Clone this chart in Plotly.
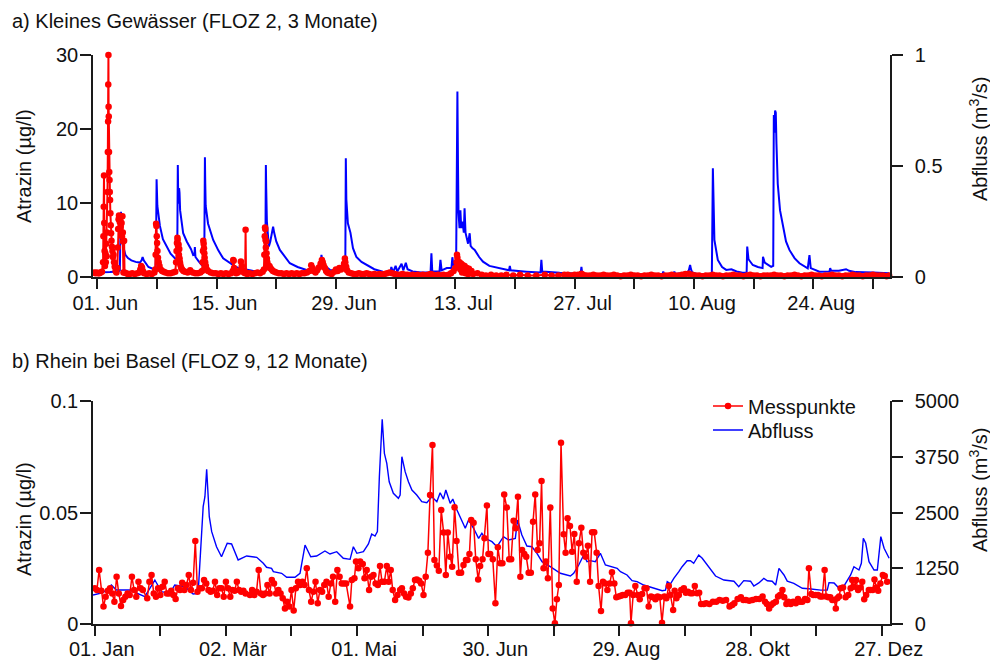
import pandas as pd
import plotly.graph_objects as go

FONT = "Liberation Sans, Arial, Helvetica, sans-serif"
RED = "#ff0000"
BLUE = "#0000ff"
AXC = "#1a1a1a"
FS = 20

# ---------------- Panel a: Kleines Gewässer (days since 01 Jun) ----------------
floz2_start = "2005-06-01"

floz2_q_days = [
    -0.45, 0.5, 1.5, 2.5, 2.65, 2.72, 2.78, 2.85, 2.95, 3.1, 3.3, 3.6, 4.0, 4.5, 5.0, 5.2, 5.32, 5.45, 5.7, 6.0, 6.5, 6.85,
    6.9, 6.96, 7.05, 7.2, 7.35, 7.7, 8.14, 8.6, 9.1, 9.35,
    9.4, 9.45, 9.5, 9.55, 9.6, 9.65, 9.72, 9.9, 10.08, 10.5, 11.0, 11.25, 11.4, 11.45, 11.52, 11.9, 12.24, 12.55,
    12.6, 12.63, 12.67, 12.72, 12.83, 13.0, 13.6, 14.2, 14.77, 15.5, 16.2, 16.73, 17.5, 18.69, 19.5, 19.72,
    19.75, 19.78, 19.82, 19.9, 20.0, 20.13, 20.3, 20.5, 20.63, 20.75, 21.0, 21.42, 22.0, 22.59, 23.5, 24.55, 25.4, 25.9, 26.2, 26.3, 26.4, 26.7, 27.29, 28.0, 28.6, 29.1,
    29.16, 29.22, 29.4, 29.7, 30.0, 30.4, 31.0, 31.6, 32.5, 33.5, 34.4, 34.5, 34.7, 35.0, 35.2, 35.7, 35.9, 36.2, 36.4, 37.0, 38.0, 39.1, 39.2, 39.3, 40.15, 40.26, 40.4, 41.0, 41.55, 41.66, 41.8, 42.1,
    42.25, 42.32, 42.38, 42.5, 42.6, 42.7, 42.85, 43.0, 43.09, 43.2, 43.3, 43.5, 43.69, 43.8, 44.0, 44.28, 44.8, 45.25, 46.0, 47.21, 48.3, 48.4, 48.5, 50.34, 52.0, 52.1, 52.2, 54.25, 56.7, 56.8, 56.9, 58.0, 60.0, 62.0, 66.3, 66.4, 66.5, 67.6, 67.7, 67.8, 69.2, 69.4, 69.55, 69.65, 69.8, 70.5, 72.1,
    72.22, 72.3, 72.4, 72.8, 73.3, 73.79, 74.4, 75.0, 75.7, 76.18, 76.25, 76.4, 76.9, 77.5, 77.9, 78.05, 78.1, 78.3, 79.06, 79.3,
    79.37, 79.45, 79.52, 79.6, 79.68, 79.83, 80.1, 80.42, 80.8, 81.2, 81.8, 82.38, 83.0, 83.35, 83.55, 83.7, 84.72, 85.9, 85.98, 86.1, 87.0, 87.85, 88.2, 89.0, 91.0, 92.9,
]
floz2_q = [
    0.02, 0.02, 0.022, 0.025, 0.03, 0.2, 0.294, 0.26, 0.17, 0.13, 0.10, 0.085, 0.075, 0.068, 0.065, 0.075, 0.09, 0.075, 0.06, 0.045, 0.037, 0.035,
    0.15, 0.44, 0.32, 0.26, 0.23, 0.17, 0.137, 0.105, 0.085, 0.08,
    0.2, 0.504, 0.35, 0.33, 0.40, 0.38, 0.30, 0.24, 0.197, 0.16, 0.125, 0.099, 0.1, 0.135, 0.09, 0.07, 0.054, 0.05,
    0.3, 0.539, 0.42, 0.32, 0.294, 0.24, 0.167, 0.12, 0.084, 0.065, 0.047, 0.039, 0.032, 0.024, 0.022, 0.03,
    0.3, 0.504, 0.40, 0.25, 0.18, 0.137, 0.16, 0.20, 0.227, 0.20, 0.16, 0.122, 0.09, 0.062, 0.045, 0.032, 0.03, 0.035, 0.045, 0.1, 0.07, 0.05, 0.032, 0.03, 0.028, 0.05,
    0.535, 0.35, 0.242, 0.2, 0.13, 0.09, 0.068, 0.054, 0.035, 0.024, 0.022, 0.045, 0.02, 0.05, 0.025, 0.06, 0.03, 0.064, 0.035, 0.025, 0.02, 0.02, 0.107, 0.025, 0.025, 0.077, 0.03, 0.04, 0.04, 0.089, 0.05, 0.06,
    0.835, 0.5, 0.29, 0.22, 0.30, 0.22, 0.25, 0.2, 0.31, 0.2, 0.18, 0.15, 0.197, 0.14, 0.13, 0.122, 0.09, 0.069, 0.05, 0.039, 0.03, 0.05, 0.03, 0.024, 0.02, 0.077, 0.025, 0.019, 0.015, 0.046, 0.015, 0.013, 0.012, 0.012, 0.012, 0.025, 0.012, 0.013, 0.025, 0.013, 0.02, 0.03, 0.054, 0.035, 0.02, 0.012, 0.012,
    0.49, 0.3, 0.167, 0.077, 0.045, 0.032, 0.035, 0.025, 0.019, 0.02, 0.137, 0.08, 0.054, 0.045, 0.039, 0.04, 0.091, 0.065, 0.046, 0.05,
    0.73, 0.65, 0.75, 0.74, 0.6, 0.42, 0.3, 0.227, 0.16, 0.122, 0.085, 0.062, 0.045, 0.039, 0.099, 0.04, 0.024, 0.025, 0.04, 0.028, 0.028, 0.035, 0.028, 0.022, 0.02, 0.017,
]

floz2_atz_days = [
    -0.35, -0.2, -0.05, 0.1, 0.25, 0.4, 0.55,
    0.68, 0.72, 0.76, 0.79, 0.82, 0.86, 0.9, 0.95, 1.0, 1.05, 1.1, 1.15, 1.2, 1.24, 1.27, 1.29, 1.31, 1.33, 1.35, 1.38,
    1.41, 1.44, 1.47, 1.5, 1.54, 1.58, 1.62, 1.67, 1.72, 1.78, 1.84, 1.9, 1.97, 2.05, 2.15, 2.25,
    2.35, 2.4, 2.45, 2.5, 2.55, 2.6, 2.65, 2.7, 2.75, 2.8, 2.85, 2.9, 2.95, 3.0, 3.03, 3.07, 3.15, 3.2, 3.4, 3.6,
    3.8, 4.1, 4.4, 4.7, 4.95, 5.05, 5.15, 5.25, 5.35, 5.5, 5.8, 6.1, 6.4, 6.7,
    6.8, 6.85, 6.9, 6.94, 6.98, 7.02, 7.06, 7.12, 7.2, 7.3, 7.45, 7.6, 7.8, 8.0, 8.3, 8.6, 8.9,
    9.15, 9.25, 9.3, 9.35, 9.4, 9.43, 9.47, 9.5, 9.54, 9.58, 9.62, 9.66, 9.7, 9.76, 9.85, 9.95, 10.1, 10.3, 10.6, 10.9, 11.2, 11.5, 11.8, 12.1,
    12.3, 12.36, 12.4, 12.44, 12.48, 12.52, 12.56, 12.6, 12.66, 12.74, 12.85, 13.0, 13.3, 13.6, 13.9, 14.2, 14.5, 14.8, 15.1, 15.4, 15.7,
    15.9, 15.95, 16.0, 16.05, 16.15, 16.3, 16.5, 16.75, 16.85, 16.95, 17.05, 17.2, 17.35, 17.4, 17.45, 17.6, 17.9, 18.2, 18.5, 18.8, 19.1, 19.4,
    19.55, 19.6, 19.65, 19.68, 19.71, 19.74, 19.78, 19.82, 19.86, 19.9, 19.95, 20.0, 20.1, 20.2, 20.3, 20.45, 20.6, 20.8, 21.0, 21.3,
    21.6, 21.9, 22.2, 22.5, 22.8, 23.1, 23.4, 23.7, 24.0, 24.3, 24.6,
    24.9, 25.1, 25.25, 25.4, 25.6, 25.8, 26.0, 26.2, 26.35, 26.45, 26.55, 26.7, 26.85, 27.0, 27.2, 27.5, 27.8, 28.0, 28.2, 28.4,
    28.6, 28.8, 28.95, 29.05, 29.1, 29.2, 29.3, 29.5, 29.8, 30.1,
    30.4, 30.7, 31.0, 31.3, 31.6, 31.9, 32.2, 32.5, 32.8, 33.1, 33.4, 33.7, 34.0, 34.3, 34.6, 34.9, 35.2, 35.5, 35.8, 36.1,
    36.4, 36.7, 37.0, 37.3, 37.6, 37.9, 38.2, 38.5, 38.8, 39.1, 39.4, 39.7, 40.0, 40.3, 40.6, 40.9, 41.2, 41.5, 41.8, 42.0,
    42.15, 42.2, 42.25, 42.3, 42.4, 42.5, 42.6, 42.7, 42.8, 42.9, 43.0, 43.1, 43.2, 43.35, 43.5, 43.6, 43.75, 43.9, 44.1,
    44.6, 45.1, 45.6, 46.2, 46.8, 47.4, 48.0, 48.8, 49.6, 50.5, 51.5, 52.5, 53.3, 54.1, 54.8,
    55.2, 55.6, 56.0, 56.4, 56.8, 57.0, 57.4, 57.8, 58.2, 58.6, 59.0, 59.4, 59.8, 60.2, 60.6, 61.0, 61.4, 61.8, 62.2, 62.6,
    63.0, 63.4, 63.8, 64.2, 64.6, 65.0, 65.4, 65.8, 66.2, 66.6, 67.0, 67.4, 67.8, 68.2, 68.6, 69.0, 69.4, 69.8, 70.2, 70.6,
    71.0, 71.4, 71.8, 72.2, 72.6, 73.0, 73.4, 73.8, 74.2, 74.6, 75.0, 75.4, 75.8, 76.2, 76.6, 77.0, 77.4, 77.8, 78.2, 78.6,
    79.0, 79.4, 79.8, 80.2, 80.6, 81.0, 81.4, 81.8, 82.2, 82.6, 83.0, 83.4, 83.8, 84.2, 84.6, 85.0, 85.4, 85.8, 86.2, 86.6,
    87.0, 87.4, 87.8, 88.2, 88.6, 89.0, 89.4, 89.8, 90.2, 90.6, 91.0, 91.4, 91.8, 92.2, 92.6, 92.9,
]
floz2_atz = [
    0.6, 0.5, 0.6, 0.5, 0.5, 0.6, 0.7,
    2.0, 5.5, 9.5, 13.7, 7.3, 3.5, 1.5, 3.2, 2.0, 4.5, 2.8, 6.0, 11.5, 16.9, 21.0, 26.0, 30.0, 23.0, 21.7, 16.9,
    14.2, 13.1, 11.5, 10.4, 8.6, 7.0, 5.9, 4.9, 4.1, 3.5, 2.7, 3.0, 2.0, 1.4, 0.8, 0.6,
    1.2, 4.0, 6.5, 7.8, 8.3, 8.1, 7.4, 8.2, 6.8, 5.8, 7.3, 5.5, 8.2, 6.0, 4.8, 0.6, 4.9, 0.6, 0.5, 0.4,
    0.4, 0.5, 0.4, 0.5, 0.6, 1.0, 1.5, 1.3, 0.8, 0.5, 0.4, 0.5, 0.4, 0.6,
    1.0, 3.0, 7.2, 6.9, 5.5, 4.6, 3.5, 2.6, 2.0, 1.5, 1.0, 0.8, 0.7, 0.6, 0.5, 0.5, 0.6,
    0.7, 2.0, 3.5, 4.6, 5.3, 5.0, 4.2, 3.6, 4.4, 3.0, 3.8, 2.5, 2.0, 1.6, 1.2, 1.0, 0.8, 0.7, 0.6, 0.9, 0.6, 0.5, 0.5, 0.6,
    0.8, 2.0, 3.5, 4.9, 4.5, 3.9, 3.2, 2.6, 2.0, 1.5, 1.0, 0.8, 0.6, 0.5, 0.5, 0.4, 0.5, 0.4, 0.5, 0.4, 0.5,
    0.8, 2.3, 2.2, 1.2, 0.8, 0.5, 0.6, 0.9, 2.1, 1.5, 0.8, 0.6, 0.5, 6.4, 0.6, 0.4, 0.5, 0.4, 0.5, 0.6, 0.5, 0.7,
    1.0, 3.0, 5.5, 6.7, 6.5, 5.0, 4.0, 4.8, 3.2, 2.5, 2.0, 1.5, 1.3, 1.5, 1.2, 1.0, 0.8, 0.7, 0.6, 0.5,
    0.5, 0.4, 0.5, 0.4, 0.5, 0.4, 0.5, 0.4, 0.5, 0.5, 0.6,
    0.8, 1.6, 1.2, 0.8, 0.6, 0.9, 1.3, 1.8, 2.3, 2.0, 1.6, 1.2, 0.8, 0.6, 0.5, 0.4, 0.7, 1.0, 0.8, 1.2,
    1.0, 1.3, 1.8, 2.5, 2.0, 1.4, 0.9, 0.6, 0.5, 0.4,
    0.4, 0.5, 0.4, 0.4, 0.5, 0.4, 0.3, 0.4, 0.3, 0.4, 0.3, 0.4, 0.5, 0.6, 0.5, 0.4, 0.3, 0.3, 0.4, 0.3,
    0.3, 0.2, 0.3, 0.2, 0.3, 0.2, 0.3, 0.2, 0.3, 0.4, 0.3, 0.2, 0.3, 0.2, 0.3, 0.2, 0.3, 0.5, 0.8, 1.2,
    2.0, 3.0, 2.6, 2.1, 1.5, 2.0, 1.0, 1.8, 0.6, 1.6, 0.7, 1.5, 0.5, 1.2, 0.4, 1.1, 0.5, 0.8, 0.4,
    0.5, 0.3, 0.2, 0.3, 0.2, 0.2, 0.3, 0.2, 0.3, 0.2, 0.2, 0.3, 0.2, 0.2, 0.3,
    0.3, 0.2, 0.3, 0.3, 0.45, 0.3, 0.2, 0.2, 0.3, 0.2, 0.2, 0.3, 0.2, 0.2, 0.3, 0.2, 0.1, 0.2, 0.2, 0.3,
    0.2, 0.2, 0.1, 0.2, 0.2, 0.3, 0.2, 0.2, 0.1, 0.2, 0.2, 0.3, 0.2, 0.2, 0.3, 0.4, 0.45, 0.3, 0.2, 0.2,
    0.1, 0.2, 0.2, 0.3, 0.2, 0.2, 0.1, 0.2, 0.2, 0.3, 0.2, 0.2, 0.1, 0.2, 0.3, 0.2, 0.2, 0.1, 0.2, 0.2,
    0.2, 0.3, 0.2, 0.2, 0.1, 0.2, 0.2, 0.3, 0.2, 0.1, 0.2, 0.2, 0.3, 0.2, 0.2, 0.1, 0.2, 0.2, 0.3, 0.2,
    0.2, 0.1, 0.2, 0.2, 0.3, 0.2, 0.2, 0.1, 0.2, 0.2, 0.3, 0.2, 0.2, 0.2, 0.1, 0.2,
]

floz2_tick_days = [0, 14, 28, 42, 56, 70, 84]
floz2_tick_text = ["01. Jun", "15. Jun", "29. Jun", "13. Jul", "27. Jul", "10. Aug", "24. Aug"]
floz2_minor_days = [7, 21, 35, 49, 63, 77, 91]
floz2_range_days = [-0.5, 93.0]
floz2_atz_ticks = [0, 10, 20, 30]
floz2_q_ticks = [0, 0.5, 1]

# ---------------- Panel b: Rhein bei Basel (days since 01 Jan) ----------------
rhein_start = "2005-01-01"

rhein_q_days = [
    -0.8, 3.8, 7.6, 9.9, 16.0, 22.9, 27.5, 30.5, 34.4, 36.6, 41.2, 45.0, 47.3, 49.6, 50.4, 51.2, 52.4, 53.5, 55.7, 58.0,
    60.6, 62.6, 65.6, 69.5, 74.1, 77.1, 78.6, 80.9, 81.7, 85.5, 87.8, 91.6, 93.9, 96.2, 98.8, 101.5, 105.3, 107.6, 110.7, 113.7,
    116.8, 118.3, 119.9, 122.9, 125.2, 126.7, 128.2, 129.3, 130.2, 131.5, 132.5, 133.6, 134.7, 136.6, 138.9, 139.7, 140.5, 142.0, 143.5, 145.1,
    147.3, 149.6, 151.9, 154.2, 156.5, 158.0, 159.5, 160.6, 162.6, 163.8, 165.7, 169.5, 171.0, 173.3, 175.6, 177.1, 178.6, 181.7, 184.0, 187.0,
    189.3, 192.4, 193.4, 195.4, 197.7, 200.0, 202.3, 204.6, 208.4, 213.0, 217.6, 219.1, 221.4, 223.7, 225.2, 226.7, 229.0, 231.3, 233.6, 236.7,
    239.0, 240.5, 242.0, 243.5, 245.8, 248.1, 251.1, 254.2, 257.3, 259.6, 261.1, 261.9, 263.4, 264.9, 267.2, 268.7, 271.0, 272.5, 274.0, 276.3,
    277.9, 280.9, 284.0, 287.8, 292.4, 294.6, 296.9, 300.0, 301.5, 303.8, 306.1, 307.7, 309.9, 311.5, 313.0, 315.3, 316.8, 319.8, 323.7, 326.7,
    329.0, 332.1, 335.1, 335.9, 338.2, 340.5, 342.7, 345.8, 347.3, 349.6, 350.7, 351.6, 352.7, 354.2, 356.5, 358.0, 359.6, 361.1, 363.4,
]
rhein_q = [
    650, 702, 874, 762, 762, 612, 986, 724, 688, 874, 836, 672, 688, 2630, 2854, 3468, 2406, 2070, 1733, 1509,
    1809, 1794, 1435, 1525, 1495, 1361, 1271, 1248, 1173, 1137, 1047, 1047, 1137, 1771, 1509, 1525, 1637, 1570, 1621, 1473,
    1450, 1733, 1585, 1621, 1794, 2018, 1973, 2070, 3303, 4590, 3827, 3603, 3190, 2930, 2818, 2892, 3751, 3415, 3190, 3004,
    2892, 2742, 2720, 2854, 2742, 2944, 2800, 3004, 2706, 2800, 2556, 2146, 2332, 2146, 1921, 2034, 1921, 1846, 1733, 1958,
    1883, 1921, 2332, 1996, 1749, 1733, 1585, 1397, 1285, 1137, 1076, 1137, 1323, 1547, 1397, 1420, 1397, 1585, 1323, 1271,
    1248, 1173, 1137, 1099, 972, 949, 874, 822, 777, 747, 760, 949, 900, 1024, 1173, 1285, 1419, 1419, 1361, 1547,
    1473, 1285, 1076, 986, 960, 836, 972, 960, 852, 920, 1024, 970, 960, 874, 1248, 1099, 960, 912, 800, 790,
    777, 760, 760, 927, 920, 800, 850, 1099, 1285, 1211, 1361, 1921, 1809, 1397, 1211, 1211, 1958, 1697, 1473,
]

rhein_atz_days = list(range(0, 23)) + list(range(24, 70)) + list(range(71, 116)) + [
    116.8, 117.6, 118.8, 119.5, 120.6, 121.4, 122.6, 123.4, 124.4, 125.5, 126.4, 127.5, 128.5, 129.5, 130.5, 131.4, 132.5, 133.6, 134.5, 135.4,
    136.3, 137.4, 138.5, 139.7, 140.5, 141.5, 142.4, 143.5, 144.6, 145.5, 146.5, 147.3, 148.4, 149.3, 150.4, 151.4, 152.4, 153.4, 154.5, 155.4,
    156.5, 157.4, 158.5, 159.6, 160.6, 161.5, 162.6, 163.5, 164.6, 165.5, 166.6, 167.6, 168.7, 169.8, 170.5, 171.4, 172.2, 173.3, 174.3, 175.4,
    176.3, 177.4, 178.3, 179.4, 180.1, 180.9, 182.1, 183.3, 184.4, 185.5, 186.5, 187.3, 188.5, 189.6, 190.5, 191.6, 192.5, 193.6, 194.7, 195.5,
    196.5, 197.4, 198.5, 199.5, 200.5, 201.5, 202.6, 203.5, 204.4, 205.3, 206.4, 207.3, 208.4, 209.5, 210.5, 211.4, 212.3, 213.3, 214.5, 215.4,
    216.3, 217.4, 218.4, 219.4, 220.5, 221.5, 222.6, 223.5, 224.6, 225.6, 226.6, 227.5, 228.5, 229.6, 230.5, 231.6, 232.5, 233.6, 234.5, 235.6,
    236.6, 237.7, 238.6, 239.7, 240.7, 241.6, 242.7, 243.8, 244.7,
    245.3, 246.3, 247.3, 248.4, 249.3, 250.4, 251.5, 252.4, 253.4, 254.5, 255.4, 256.5, 257.5, 258.5, 259.5, 260.6, 261.5, 262.6, 263.4, 264.6,
    265.3, 266.1, 267.2, 268.3, 269.5, 270.4, 271.4, 272.5, 273.4, 274.5, 275.6, 276.5, 277.4, 278.6, 279.7, 281.2, 282.8, 284.3, 285.8, 287.3,
    288.8, 290.4, 291.6, 292.6, 294.1, 295.6, 296.7, 297.9, 299.4, 300.9, 302.5, 304.0, 305.5, 306.6, 307.5, 308.5, 309.5, 310.4, 311.6, 312.6,
    313.5, 314.6, 315.4, 316.4, 317.3, 318.4, 319.5, 320.7, 321.7, 322.6, 323.7, 324.9, 326.0, 326.7, 327.8, 328.7, 329.8, 330.9, 331.9, 332.8,
    333.9, 334.6, 335.6, 336.5, 337.4, 338.3, 339.0, 339.7, 340.5, 341.2, 342.3, 343.5, 344.7, 345.8, 346.5, 347.3, 348.3, 349.2, 350.3, 351.1,
    352.0, 352.9, 354.1, 354.9, 355.9, 356.7, 357.6, 358.4, 359.4, 360.5, 361.4, 362.5,
]
rhein_atz = [
    0.0160, 0.0152, 0.0242, 0.0149, 0.0078, 0.0122, 0.0149, 0.0160, 0.0137, 0.0100,
    0.0212, 0.0137, 0.0081, 0.0108, 0.0122, 0.0137, 0.0130, 0.0212, 0.0152, 0.0122,
    0.0190, 0.0160, 0.0152, 0.0115, 0.0190, 0.0220, 0.0137, 0.0122, 0.0160, 0.0130,
    0.0167, 0.0190, 0.0137, 0.0137, 0.0149, 0.0130, 0.0112, 0.0160, 0.0152, 0.0185,
    0.0152, 0.0175, 0.0220, 0.0152, 0.0185, 0.0372, 0.0145, 0.0160, 0.0160, 0.0197,
    0.0182, 0.0152, 0.0145, 0.0149, 0.0190, 0.0130, 0.0160, 0.0160, 0.0122, 0.0190,
    0.0160, 0.0122, 0.0152, 0.0149, 0.0190, 0.0152, 0.0145, 0.0149, 0.0137, 0.0130,
    0.0152, 0.0130, 0.0145, 0.0242, 0.0137, 0.0130, 0.0137, 0.0175, 0.0137, 0.0197,
    0.0182, 0.0137, 0.0152, 0.0137, 0.0115, 0.0070, 0.0100, 0.0078, 0.0152, 0.0060,
    0.0160, 0.0190, 0.0175, 0.0190, 0.0175, 0.0250, 0.0152, 0.0100, 0.0145, 0.0190,
    0.0093, 0.0152, 0.0145, 0.0175, 0.0190, 0.0122, 0.0182, 0.0212, 0.0100, 0.0242,
    0.0212, 0.0182, 0.0182, 0.0182,
    0.0078, 0.0197, 0.0205, 0.0280, 0.0250, 0.0280, 0.0269, 0.0205, 0.0242, 0.0152, 0.0212, 0.0220, 0.0182, 0.0175, 0.0260, 0.0190, 0.0190, 0.0260, 0.0190, 0.0242,
    0.0152, 0.0108, 0.0130, 0.0152, 0.0160, 0.0137, 0.0122, 0.0119, 0.0137, 0.0160, 0.0197, 0.0200, 0.0194, 0.0182, 0.0130, 0.0212, 0.0320, 0.0578, 0.0803, 0.0287,
    0.0262, 0.0239, 0.0511, 0.0410, 0.0220, 0.0410, 0.0302, 0.0257, 0.0523, 0.0372, 0.0230, 0.0230, 0.0265, 0.0287, 0.0287, 0.0314, 0.0466, 0.0454, 0.0290, 0.0200,
    0.0260, 0.0290, 0.0384, 0.0531, 0.0314, 0.0314, 0.0290, 0.0093, 0.0344, 0.0272, 0.0272, 0.0581, 0.0522, 0.0290, 0.0290, 0.0463, 0.0429, 0.0571, 0.0212, 0.0332,
    0.0314, 0.0302, 0.0230, 0.0230, 0.0459, 0.0581, 0.0332, 0.0362, 0.0641, 0.0250, 0.0280, 0.0205, 0.0522, 0.0070, 0.0003, 0.0111, 0.0175, 0.0813, 0.0402, 0.0320,
    0.0474, 0.0439, 0.0324, 0.0404, 0.0190, 0.0362, 0.0432, 0.0320, 0.0302, 0.0351, 0.0190, 0.0411, 0.0411, 0.0320, 0.0170, 0.0058, 0.0190, 0.0182, 0.0152, 0.0182,
    0.0232, 0.0182, 0.0120, 0.0123, 0.0127, 0.0130, 0.0130, 0.0140, 0.0140,
    0.0003, 0.0130, 0.0170, 0.0130, 0.0111, 0.0135, 0.0160, 0.0160, 0.0078, 0.0123, 0.0120, 0.0111, 0.0123, 0.0120, 0.0006, 0.0123, 0.0115, 0.0170, 0.0130, 0.0063,
    0.0149, 0.0115, 0.0130, 0.0152, 0.0160, 0.0140, 0.0145, 0.0138, 0.0138, 0.0170, 0.0138, 0.0140, 0.0090, 0.0090, 0.0093, 0.0090, 0.0100, 0.0100, 0.0108, 0.0104,
    0.0108, 0.0078, 0.0085, 0.0093, 0.0112, 0.0120, 0.0108, 0.0108, 0.0104, 0.0108, 0.0112, 0.0112, 0.0123, 0.0100, 0.0090, 0.0070, 0.0085, 0.0093, 0.0100, 0.0123,
    0.0130, 0.0152, 0.0120, 0.0090, 0.0100, 0.0090, 0.0100, 0.0093, 0.0112, 0.0100, 0.0100, 0.0112, 0.0108, 0.0250, 0.0135, 0.0130, 0.0130, 0.0130, 0.0123, 0.0123,
    0.0242, 0.0123, 0.0120, 0.0120, 0.0108, 0.0108, 0.0070, 0.0115, 0.0123, 0.0160, 0.0164, 0.0120, 0.0130, 0.0160, 0.0197, 0.0167, 0.0197, 0.0152, 0.0164, 0.0190,
    0.0111, 0.0130, 0.0152, 0.0152, 0.0152, 0.0200, 0.0164, 0.0149, 0.0182, 0.0220, 0.0215, 0.0190,
]

rhein_tick_days = [0, 60, 120, 180, 240, 300, 360]
rhein_tick_text = ["01. Jan", "02. Mär", "01. Mai", "30. Jun", "29. Aug", "28. Okt", "27. Dez"]
rhein_minor_days = [30, 90, 150, 210, 270, 330]
rhein_range_days = [-0.8, 363.8]
rhein_atz_ticks = [0, 0.05, 0.1]
rhein_atz_ticktext = ["0", "0.05", "0.1"]
rhein_q_ticks = [0, 1250, 2500, 3750, 5000]

assert len(floz2_q_days) == len(floz2_q)
assert len(floz2_atz_days) == len(floz2_atz), (len(floz2_atz_days), len(floz2_atz))
assert len(rhein_q_days) == len(rhein_q)
assert len(rhein_atz_days) == len(rhein_atz), (len(rhein_atz_days), len(rhein_atz))


def to_dates(start, days):
    return pd.Timestamp(start) + pd.to_timedelta(days, unit="D")


def to_iso(start, days):
    return [t.strftime("%Y-%m-%d %H:%M:%S") for t in to_dates(start, days)]


fig = go.Figure()

# Panel a
fig.add_trace(go.Scatter(x=to_dates(floz2_start, floz2_q_days), y=floz2_q, mode="lines",
                         line=dict(color=BLUE, width=2), xaxis="x", yaxis="y",
                         showlegend=False, name="Abfluss"))
fig.add_trace(go.Scatter(x=to_dates(floz2_start, floz2_atz_days), y=floz2_atz, mode="lines+markers",
                         line=dict(color=RED, width=2), marker=dict(color=RED, size=6.5),
                         xaxis="x", yaxis="y2", showlegend=False, cliponaxis=False, name="Messpunkte"))

# Panel b
fig.add_trace(go.Scatter(x=to_dates(rhein_start, rhein_q_days), y=rhein_q, mode="lines",
                         line=dict(color=BLUE, width=1.4), xaxis="x2", yaxis="y3",
                         name="Abfluss", legend="legend2"))
fig.add_trace(go.Scatter(x=to_dates(rhein_start, rhein_atz_days), y=rhein_atz, mode="lines+markers",
                         line=dict(color=RED, width=1.5), marker=dict(color=RED, size=6.5),
                         xaxis="x2", yaxis="y4", cliponaxis=False, name="Messpunkte", legend="legend"))

common_axis = dict(showline=True, linecolor=AXC, linewidth=1.5, ticks="outside", tickcolor=AXC,
                   tickwidth=1.5, showgrid=False, zeroline=False,
                   tickfont=dict(family=FONT, size=FS, color="#111"))
minor_x = dict(ticks="outside", ticklen=10, tickwidth=1.5, tickcolor=AXC, showgrid=False)

top_dom = [(624 - 277) / 569, 1.0]
bot_dom = [0.0, (624 - 401) / 569]

legend_common = dict(xanchor="left", yanchor="middle", bgcolor="rgba(0,0,0,0)",
                     font=dict(family=FONT, size=FS, color="#111"), itemwidth=30)

fig.update_layout(
    autosize=False,
    width=990, height=661,
    margin=dict(l=93, r=100, t=55, b=37, autoexpand=False),
    paper_bgcolor="white", plot_bgcolor="white",
    font=dict(family=FONT, size=FS, color="#111"),
    xaxis=dict(domain=[0, 1], anchor="y", type="date",
               range=to_iso(floz2_start, floz2_range_days),
               tickvals=to_iso(floz2_start, floz2_tick_days), ticktext=floz2_tick_text,
               minor=dict(tickvals=to_iso(floz2_start, floz2_minor_days), **minor_x),
               ticklen=10, ticklabelshift=8, ticklabelstandoff=-3, **common_axis),
    yaxis=dict(domain=top_dom, anchor="x", side="right", range=[0, 1],
               tickvals=floz2_q_ticks, ticktext=["0", "0.5", "1"], ticklen=11,
               ticklabelstandoff=8, **common_axis),
    yaxis2=dict(overlaying="y", anchor="x", side="left", range=[0, 30],
                tickvals=floz2_atz_ticks, ticklen=11, ticklabelstandoff=-2, **common_axis),
    xaxis2=dict(domain=[0, 1], anchor="y3", type="date",
                range=to_iso(rhein_start, rhein_range_days),
                tickvals=to_iso(rhein_start, rhein_tick_days), ticktext=rhein_tick_text,
                minor=dict(tickvals=to_iso(rhein_start, rhein_minor_days), **minor_x),
                ticklen=10, ticklabelshift=7, ticklabelstandoff=-4, **common_axis),
    yaxis3=dict(domain=bot_dom, anchor="x2", side="right", range=[0, 5000],
                tickvals=rhein_q_ticks, ticklen=11, ticklabelstandoff=8, **common_axis),
    yaxis4=dict(overlaying="y3", anchor="x2", side="left", range=[0, 0.1],
                tickvals=rhein_atz_ticks, ticktext=rhein_atz_ticktext, ticklen=11,
                ticklabelstandoff=-2, **common_axis),
    legend=dict(x=(708 - 93) / 797, y=(624 - 406) / 569, **legend_common),
    legend2=dict(x=(708 - 93) / 797, y=(624 - 430) / 569, **legend_common),
)

ann = [
    dict(text="a) Kleines Gewässer (FLOZ 2, 3 Monate)", x=(10 - 93) / 797, y=(624 - 21) / 569,
         xanchor="left", yanchor="middle", textangle=0),
    dict(text="b) Rhein bei Basel (FLOZ 9, 12 Monate)", x=(10 - 93) / 797, y=(624 - 361) / 569,
         xanchor="left", yanchor="middle", textangle=0),
    dict(text="Atrazin (µg/l)", x=(24 - 93) / 797, y=(624 - 166) / 569,
         xanchor="center", yanchor="middle", textangle=-90),
    dict(text="Atrazin (µg/l)", x=(24 - 93) / 797, y=(624 - 519) / 569,
         xanchor="center", yanchor="middle", textangle=-90),
    dict(text="Abfluss (m<sup>3</sup>/s)", x=(978 - 93) / 797, y=(624 - 139) / 569,
         xanchor="center", yanchor="middle", textangle=-90),
    dict(text="Abfluss (m<sup>3</sup>/s)", x=(978 - 93) / 797, y=(624 - 490) / 569,
         xanchor="center", yanchor="middle", textangle=-90),
]
for a in ann:
    fig.add_annotation(xref="paper", yref="paper", showarrow=False,
                       font=dict(family=FONT, size=FS, color="#111"), **a)

fig.write_html("out.html", config={"displayModeBar": False})
